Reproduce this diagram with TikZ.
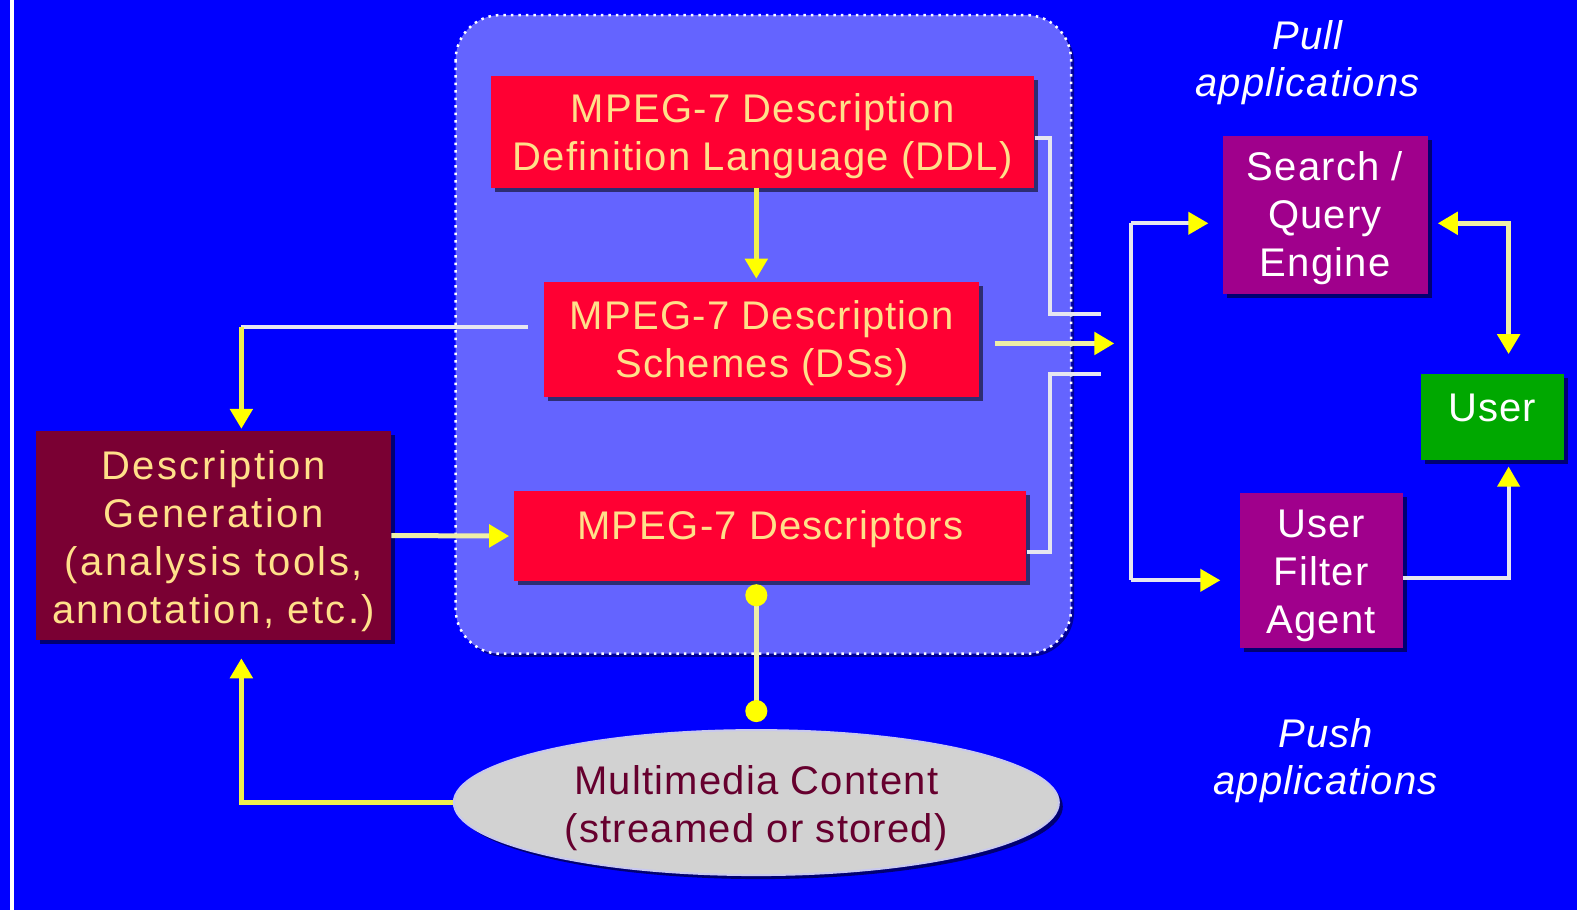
\documentclass[tikz,border=0pt]{standalone}
\usepackage{fontspec}
\setmainfont{Liberation Sans}
\newfontfamily\boxfont[LetterSpace=3]{Liberation Sans}
\newfontfamily\genfont[LetterSpace=6]{Liberation Sans}
\usetikzlibrary{arrows.meta,shapes.geometric,shadows}

\definecolor{bgblue}{HTML}{0000FF}
\definecolor{panel}{HTML}{6464FF}
\definecolor{mpegred}{HTML}{FF0033}
\definecolor{genmaroon}{HTML}{7A0033}
\definecolor{appurple}{HTML}{A0008C}
\definecolor{usergreen}{HTML}{00A800}
\definecolor{cloud}{HTML}{D2D2D2}
\definecolor{cloudedge}{HTML}{C8C8F0}
\definecolor{goldtext}{HTML}{FFE08A}
\definecolor{winetext}{HTML}{66002E}
\definecolor{tipyellow}{HTML}{FFFF00}
\definecolor{lineyellow}{HTML}{F0F050}
\definecolor{linewhite}{HTML}{E6E6F0}
\definecolor{linecream}{HTML}{EEEEA8}

% stacked, centred lines drawn lower by the optional amount (box size kept)
\newcommand{\txtlines}[2][4pt]{\raisebox{-#1}[\height][\depth]{\begin{tabular}{@{}c@{}}#2\end{tabular}}}
% a single line drawn higher by the given amount (box size kept)
\newcommand{\txtup}[2]{\raisebox{#1}[\height][\depth]{#2}}

\begin{document}
\begin{tikzpicture}[x=1.0057pt,y=-1.0057pt,
  >={Triangle[length=20pt,width=22pt,color=tipyellow]},
  dot/.tip={Circle[length=22pt,color=tipyellow]},
  wline/.style={draw=linewhite, line width=4pt},
  yline/.style={draw=lineyellow, line width=5pt},
  cline/.style={draw=linecream, line width=5pt},
  boxbase/.style={rectangle, inner sep=0pt, align=center,
    font=\boxfont\fontsize{40}{48}\selectfont,
    drop shadow={shadow xshift=4pt, shadow yshift=-4pt, opacity=0.55, fill=black}},
  redbox/.style={boxbase, fill=mpegred, text=goldtext},
  genbox/.style={boxbase, fill=genmaroon, text=goldtext,
    font=\genfont\fontsize{40}{48}\selectfont},
  purpbox/.style={boxbase, fill=appurple, text=white},
  greenbox/.style={boxbase, fill=usergreen, text=white},
  cloudnode/.style={ellipse, inner sep=0pt, align=center, fill=cloud,
    draw=cloudedge, line width=2pt, text=winetext,
    font=\boxfont\fontsize{40}{48}\selectfont,
    drop shadow={shadow xshift=4pt, shadow yshift=-4pt, opacity=0.55, fill=black}},
  applabel/.style={align=center, inner sep=0pt, text=white,
    font=\boxfont\itshape\fontsize{40}{47}\selectfont}
]
\useasboundingbox (0,0) rectangle (1568,905);
\fill[bgblue] (0,0) rectangle (1568,905);
\draw[white, line width=4pt] (11.5,0) -- (11.5,905);

% MPEG-7 panel
\fill[black, opacity=0.4, rounded corners=45pt] (456,18) rectangle (1068,653);
\draw[fill=panel, draw=white, line width=2.5pt, dash pattern=on 2.5pt off 5pt,
  rounded corners=45pt] (453,15) rectangle (1065,650);

% boxes
\node[redbox, minimum width=543pt, minimum height=112pt] (ddl) at (758.5,131)
  {\txtlines[5pt]{MPEG-7 Description\\Definition Language (DDL)}};
\node[redbox, minimum width=435pt, minimum height=115pt] (ds) at (757.5,337.5)
  {\txtlines[4pt]{MPEG-7 Description\\Schemes (DSs)}};
\node[redbox, minimum width=512pt, minimum height=90pt] (desc) at (766,533)
  {\txtup{7pt}{MPEG-7 Descriptors}};
\node[genbox, minimum width=355pt, minimum height=209pt] (gen) at (212.5,532.5)
  {\txtlines[6pt]{Description\\Generation\\(analysis tools,\\annotation, etc.)}};
\node[cloudnode, minimum width=605pt, minimum height=145pt] (mm) at (752,798)
  {\txtlines[6pt]{Multimedia Content\\(streamed or stored)}};
\node[purpbox, minimum width=205pt, minimum height=158pt] (search) at (1317.5,214)
  {\txtlines[4pt]{Search /\\Query\\Engine}};
\node[greenbox, minimum width=143pt, minimum height=86pt] (user) at (1483.5,415)
  {\txtup{9pt}{User}};
\node[purpbox, minimum width=163pt, minimum height=155pt] (agent) at (1313.5,567.5)
  {\txtlines[5pt]{User\\Filter\\Agent}};
\node[applabel] (pull) at (1300,58) {\txtlines[5pt]{Pull\\applications}};
\node[applabel] (push) at (1318,752) {\txtlines[5pt]{Push\\applications}};

% bend points
\coordinate (dsL) at (525,325);
\coordinate (genT) at (240,325);
\coordinate (mA) at (1095,312);
\coordinate (mB) at (1108,341.5);
\coordinate (mC) at (1095,372);
\coordinate (dsR) at ([xshift=15pt]ds.east);
\coordinate (dT) at (1125,222);
\coordinate (dB) at (1125,577);
\coordinate (uT) at (1500,222);
\coordinate (uB) at (1500,575);

% connectors inside the panel
\draw[yline,->,shorten >=3pt] (mm.north |- ddl.south) -- (mm.north |- ds.north);
\draw[wline] (dsL) -- (genT);
\draw[yline,->,shorten >=2pt] (genT) -- (genT |- gen.north);
\draw[cline,->,shorten >=5pt] (gen.east) -- (desc.west);
\draw[cline,dot-dot,shorten <=3pt,shorten >=7pt] (desc.south -| mm.north) -- (mm.north);
\draw[yline,->,shorten >=18pt] (mm.west) -| (genT |- gen.south);

% outputs of the panel
\draw[wline] ([yshift=-6pt]ddl.east) -- ++(15,0) |- (mA);
\draw[cline,->] (dsR |- mB) -- (mB);
\draw[wline] ([yshift=-16pt]desc.east) -- ++(23,0) |- (mC);

% applications
\draw[wline] (dT) -- (dB);
\draw[wline,->,shorten >=14pt] (dT) -- (search.west |- dT);
\draw[wline,->,shorten >=19pt] (dB) -- (agent.west |- dB);
\draw[cline,<->,shorten <=10pt,shorten >=20pt] (search.east |- uT) -- (uT) -- (uT |- user.north);
\draw[wline,->,shorten >=6pt] (agent.east |- uB) -- (uB) -- (uB |- user.south);
\end{tikzpicture}
\end{document}
